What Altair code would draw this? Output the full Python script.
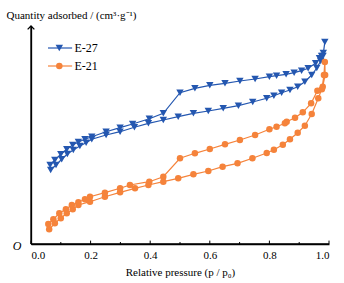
import altair as alt
import pandas as pd

# ---- data (p/p0, quantity adsorbed in arbitrary units) ----
e27_ads_x = [0.066, 0.084, 0.103, 0.122, 0.142, 0.164, 0.185, 0.204, 0.252, 0.299, 0.347, 0.394, 0.444,
             0.494, 0.545, 0.595, 0.645, 0.696, 0.744, 0.791, 0.815, 0.841, 0.869, 0.895, 0.919, 0.942,
             0.959, 0.972, 0.980, 0.986]
e27_ads_y = [74, 79, 84.7, 90, 94, 98, 101.3, 104.7, 109, 112.3, 116.7, 120.7, 124,
             127.3, 130.7, 133, 135.7, 138.3, 142, 145.7, 148.3, 151.3, 154, 157.3, 162.3, 169,
             176, 183, 188, 202]
e27_des_x = [0.981, 0.975, 0.968, 0.955, 0.930, 0.908, 0.883, 0.856, 0.824, 0.800, 0.752, 0.701, 0.651,
             0.600, 0.550, 0.500, 0.444, 0.397, 0.341, 0.299, 0.252, 0.204, 0.181, 0.159, 0.140, 0.120,
             0.100, 0.080, 0.064]
e27_des_y = [191, 188, 185.7, 180.7, 175.7, 173.3, 171.3, 169.7, 168.3, 167.3, 165, 163, 160.7,
             158.7, 155.7, 151.3, 130.7, 125.3, 120, 116.3, 112.3, 107.3, 104.7, 102, 99, 94.7,
             89.7, 84, 79]

e21_ads_x = [0.061, 0.080, 0.100, 0.120, 0.140, 0.159, 0.198, 0.248, 0.299, 0.349, 0.394, 0.444,
             0.494, 0.545, 0.595, 0.643, 0.693, 0.743, 0.791, 0.815, 0.845, 0.869, 0.895, 0.919,
             0.942, 0.964, 0.979, 0.987]
e21_ads_y = [14.7, 20.7, 25.7, 30.7, 34.7, 39, 42.3, 47.3, 51.7, 55.7, 59, 62.3,
             65.7, 69.7, 73, 77.3, 80.7, 85.7, 91, 94.3, 99.2, 104.7, 111.3, 118.3,
             130, 145.7, 157.3, 169]
e21_des_x = [0.986, 0.983, 0.976, 0.961, 0.940, 0.912, 0.886, 0.858, 0.852, 0.824, 0.800, 0.752,
             0.701, 0.651, 0.600, 0.550, 0.500, 0.444, 0.397, 0.332, 0.299, 0.248, 0.198, 0.181,
             0.159, 0.137, 0.117, 0.095, 0.075, 0.058]
e21_des_y = [182, 169, 154.7, 153.3, 140.7, 131.7, 126.3, 122.3, 120.7, 117.3, 114.7, 109,
             104, 99.7, 95, 90.7, 85.7, 67.3, 62.3, 59, 55.7, 51.3, 47.3, 44.7,
             41.7, 39, 34.7, 30.7, 24.7, 20]

series_names = ["E-27", "E-21"]
series_colors = ["#2457B0", "#F5833B"]

x_major = [0.0, 0.2, 0.4, 0.6, 0.8, 1.0]
x_minor = [0.1, 0.3, 0.5, 0.7, 0.9]

FONT = "Liberation Serif"
INK = "#000000"
YMAX = 218

rows = []
for name, xs, ys in [("E-27", e27_ads_x + e27_des_x, e27_ads_y + e27_des_y),
                     ("E-21", e21_ads_x + e21_des_x, e21_ads_y + e21_des_y)]:
    for i, (a, b) in enumerate(zip(xs, ys)):
        rows.append({"series": name, "p": a, "q": b, "order": i})
df = pd.DataFrame(rows)

xscale = alt.Scale(domain=[0, 1], nice=False, zero=False)
yscale = alt.Scale(domain=[0, YMAX], nice=False, zero=True)
# one colour scale for everything, the axis strokes included
cscale = alt.Scale(domain=series_names + ["axis"], range=series_colors + [INK])
sscale = alt.Scale(domain=series_names, range=["triangle-down", "circle"])
zscale = alt.Scale(domain=series_names, range=[55, 42])

X_TITLE = "Relative pressure (p / p₀)"
Y_TITLE = "Quantity adsorbed / (cm³·g⁻¹)"

xaxis = alt.Axis(values=x_major, format=".1f", title=X_TITLE)
yaxis = alt.Axis(values=[0], labelExpr="'O'", title=Y_TITLE)

base = alt.Chart(df)
lines = base.mark_line(strokeWidth=1.2).encode(
    x=alt.X("p:Q", scale=xscale, axis=xaxis),
    y=alt.Y("q:Q", scale=yscale, axis=yaxis),
    color=alt.Color("series:N", scale=cscale, legend=None),
    detail="series:N",
    order="order:Q",
)
points = base.mark_point(filled=True, opacity=1).encode(
    x=alt.X("p:Q", scale=xscale),
    y=alt.Y("q:Q", scale=yscale),
    color=alt.Color("series:N", scale=cscale, legend=None),
    shape=alt.Shape("series:N", scale=sscale, legend=None),
    size=alt.Size("series:N", scale=zscale, legend=None),
)

# axis lines, coloured through the shared colour scale
axis_df = pd.DataFrame({"series": ["axis", "axis"], "xa": [0.0, 0.0], "xb": [1.0, 0.0],
                        "ya": [0.0, 0.0], "yb": [0.0, YMAX]})
axis_lines = alt.Chart(axis_df).mark_rule(strokeWidth=1.3).encode(
    x=alt.X("xa:Q", scale=xscale), x2="xb:Q",
    y=alt.Y("ya:Q", scale=yscale), y2="yb:Q",
    color=alt.Color("series:N", scale=cscale, legend=None),
)

# axis ticks pointing inward
n_t = len(x_major) + len(x_minor)
tick_df = pd.DataFrame({"series": ["axis"] * n_t, "tp": x_major + x_minor,
                        "ta": [0.0] * n_t,
                        "tb": [3.4] * len(x_major) + [2.0] * len(x_minor)})
ticks = alt.Chart(tick_df).mark_rule(strokeWidth=1).encode(
    x=alt.X("tp:Q", scale=xscale),
    y=alt.Y("ta:Q", scale=yscale),
    y2="tb:Q",
    color=alt.Color("series:N", scale=cscale, legend=None),
)

# arrow head at the top of the y axis
arrow = alt.Chart(pd.DataFrame({"series": ["axis"], "ap": [0.0], "aq": [YMAX]})).mark_point(
    shape="M-1,1L0,0L1,1", filled=False, strokeWidth=1.3, size=45, opacity=1
).encode(x=alt.X("ap:Q", scale=xscale), y=alt.Y("aq:Q", scale=yscale),
         color=alt.Color("series:N", scale=cscale, legend=None))

# manual legend
leg_df = pd.DataFrame({"series": series_names, "ly": [196, 178],
                       "lx1": [0.057, 0.057], "lx2": [0.138, 0.138], "lxm": [0.095, 0.095],
                       "lxt": [0.146, 0.146]})
leg_lines = alt.Chart(leg_df).mark_rule(strokeWidth=1.2).encode(
    x=alt.X("lx1:Q", scale=xscale), x2="lx2:Q",
    y=alt.Y("ly:Q", scale=yscale),
    color=alt.Color("series:N", scale=cscale, legend=None))
leg_pts = alt.Chart(leg_df).mark_point(filled=True, opacity=1).encode(
    x=alt.X("lxm:Q", scale=xscale), y=alt.Y("ly:Q", scale=yscale),
    color=alt.Color("series:N", scale=cscale, legend=None),
    shape=alt.Shape("series:N", scale=sscale, legend=None),
    size=alt.Size("series:N", scale=zscale, legend=None))
leg_text = alt.Chart(leg_df).mark_text(align="left", baseline="middle", font=FONT, fontSize=12,
                                       color=INK).encode(
    x=alt.X("lxt:Q", scale=xscale), y=alt.Y("ly:Q", scale=yscale),
    text="series:N")

chart = alt.layer(lines, points, leg_lines, leg_pts, leg_text, axis_lines, ticks, arrow).properties(
    width=298, height=YMAX,
    autosize=alt.AutoSizeParams(type="none"),
    padding={"left": 31, "top": 26, "right": 15, "bottom": 39},
).configure_view(stroke=None).configure_axis(
    grid=False, domain=True, domainColor=INK, domainWidth=1.3, ticks=False,
    labelColor=INK, labelFont=FONT, titleFont=FONT, titleColor=INK, titleFontWeight="normal",
).configure_axisX(
    labelFontSize=11, labelPadding=5, titleFontSize=11, titlePadding=6,
).configure_axisY(
    labelFontSize=12, labelFontStyle="italic", labelPadding=10,
    labelBaseline="middle", labelOffset=1, titleFontSize=11, titleAngle=0, titleAlign="left",
    titleBaseline="middle", titleX=-25, titleY=-11,
)

chart.save("out.html", embed_options={"renderer": "svg", "actions": False})
